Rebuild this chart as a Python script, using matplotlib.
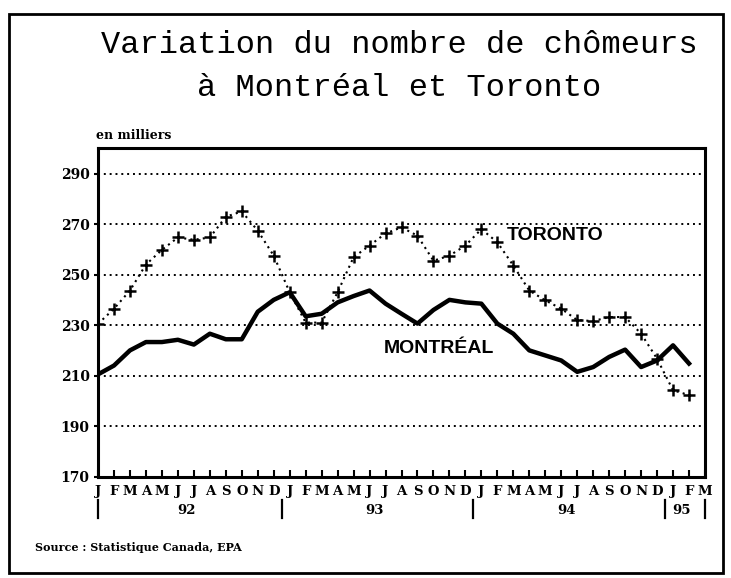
import matplotlib
matplotlib.use("Agg")
import matplotlib.pyplot as plt
from matplotlib import patches, transforms

# monthly data, J 92 -> F 95 (thousands)
months = ["J", "F", "M", "A", "M", "J", "J", "A", "S", "O", "N", "D"] * 3 + ["J", "F", "M"]
years = ["92", "93", "94", "95"]
montreal = [210.5, 214, 220, 223.3, 223.3, 224.2, 222.3, 226.6, 224.4, 224.4, 235.3, 240,
            243, 233.5, 234.5, 239, 241.5, 243.7, 238.5, 234.5, 230.6, 236, 240, 239,
            238.5, 230.6, 226.6, 220, 218, 216, 211.5, 213.4, 217.4, 220.3, 213.4, 216,
            222, 214.8]
toronto = [230.5, 236.5, 243.7, 254, 259.8, 264.7, 263.8, 264.7, 272.9, 275, 267.4, 257.5,
           243, 231, 231, 243, 256.9, 261.5, 266.3, 268.7, 265.4, 255.5, 257.5, 261.5,
           268, 262.8, 253.6, 243.7, 239.8, 236.5, 232, 231.6, 233.2, 233.2, 226.6, 216.7,
           204.2, 202.3]
yticks = [170, 190, 210, 230, 250, 270, 290]

serif = "DejaVu Serif"

fig = plt.figure(figsize=(7.31, 5.78), dpi=100)
ax = fig.add_axes([0.1341, 0.1753, 0.8303, 0.5681])

# outer frame
fig.patches.append(patches.Rectangle((0.012, 0.009), 0.977, 0.967, transform=fig.transFigure,
                                     fill=False, edgecolor="black", linewidth=2))

x = list(range(len(montreal)))
ax.plot(x, toronto, color="black", linestyle=(0, (1, 2)), linewidth=1.5,
        marker="+", markersize=9, markeredgewidth=1.8)
ax.plot(x, montreal, color="black", linewidth=3.2, solid_joinstyle="round")

ax.set_xlim(0, len(months) - 1)
ax.set_ylim(170, 300)
ax.set_yticks(yticks)
ax.set_yticklabels([str(v) for v in yticks], fontfamily=serif, fontweight="bold", fontsize=10)
ax.set_xticks(range(len(months)))
ax.set_xticklabels(months, fontfamily=serif, fontweight="bold", fontsize=9.5)
ax.tick_params(axis="x", direction="in", length=5, width=1.5, pad=6)
ax.tick_params(axis="y", direction="out", length=3, width=1.5, pad=3)

for v in yticks[1:]:
    ax.axhline(v, color="black", linestyle=(0, (1, 2)), linewidth=1.4)

for s in ax.spines.values():
    s.set_linewidth(2.2)

# year separators below the month letters
trans = transforms.blended_transform_factory(ax.transData, ax.transAxes)
bounds = [0] + [12 * i - 0.5 for i in range(1, len(years))] + [len(months) - 1]
for b in bounds:
    ax.plot([b, b], [-0.071, -0.126], transform=trans, color="black", linewidth=1.6, clip_on=False)
for i, yr in enumerate(years):
    ax.text((bounds[i] + bounds[i + 1]) / 2 - 0.2, -0.104, yr, transform=trans, ha="center",
            va="center", fontfamily=serif, fontweight="bold", fontsize=9.5)

ax.text(25.6, 265.4, "TORONTO", ha="left", va="center", fontfamily="Liberation Sans",
        fontweight="bold", fontsize=14)
ax.text(17.9, 220.9, "MONTRÉAL", ha="left", va="center", fontfamily="Liberation Sans",
        fontweight="bold", fontsize=14)

fig.text(0.546, 0.922, "Variation du nombre de chômeurs", ha="center", va="center",
         fontfamily="Liberation Mono", fontsize=23)
fig.text(0.546, 0.848, "à Montréal et Toronto", ha="center", va="center",
         fontfamily="Liberation Mono", fontsize=23)
fig.text(0.132, 0.766, "en milliers", ha="left", va="center", fontfamily=serif,
         fontweight="bold", fontsize=9)
fig.text(0.048, 0.052, "Source : Statistique Canada, EPA", ha="left", va="center",
         fontfamily=serif, fontweight="bold", fontsize=8)

fig.savefig("out.png", dpi=100)
